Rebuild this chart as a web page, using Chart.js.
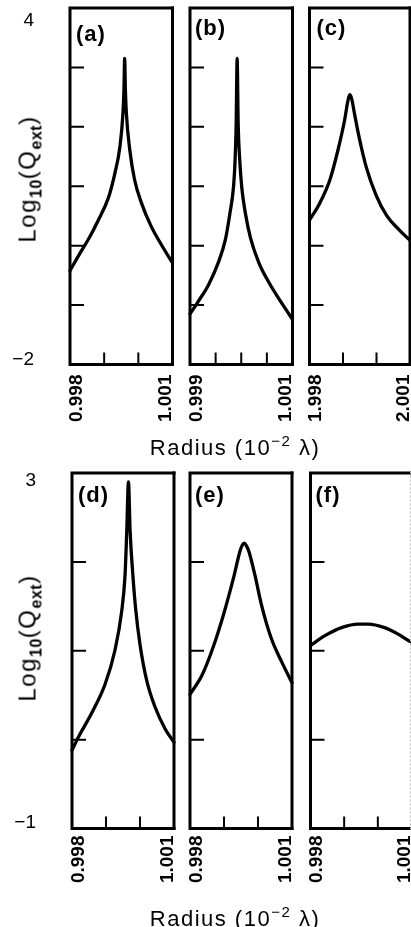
<!DOCTYPE html>
<html>
<head>
<meta charset="utf-8">
<script src="https://cdn.jsdelivr.net/npm/chart.js@4"></script>
<style>
html,body{margin:0;padding:0;background:#fff;overflow:hidden;}
body{width:411px;height:927px;position:relative;font-family:"Liberation Sans",Arial,Helvetica,sans-serif;color:#000;}
canvas{position:absolute;left:0;top:0;}
.ytitle{position:absolute;font-size:24px;letter-spacing:1.5px;white-space:nowrap;line-height:1;transform:translate(-50%,-50%) rotate(-90deg);}
.ytitle sub{font-size:16px;font-weight:bold;vertical-align:-6px;letter-spacing:0.5px;}
.xtitle{position:absolute;font-size:22px;letter-spacing:1.5px;white-space:nowrap;line-height:1;transform:translate(-50%,-50%);}
.xtitle sup{font-size:15px;vertical-align:9px;}
</style>
</head>
<body>
<script>
// ---------------- DATA ----------------
const row1YRange = [-2, 4];
const row2YRange = [-1, 3];
const row1YTicks = [-1, 0, 1, 2, 3];
const row2YTicks = [0, 1, 2];
const row1YTickLabels = ['4', '\u22122'];
const row2YTickLabels = ['3', '\u22121'];

// (a)
const aXRange = [0.998, 1.001];
const aXTicks = [0.999, 1.000];
const aXLabels = ['0.998', '1.001'];
const aX = [0.99800, 0.99832, 0.99858, 0.99882, 0.99912, 0.99931, 0.99946, 0.99955, 0.99958, 0.99960, 0.99962, 0.99965, 0.99975, 0.99989, 1.00009, 1.00038, 1.00067, 1.00100];
const aY = [-0.42, -0.10, 0.15, 0.42, 0.80, 1.21, 1.66, 2.23, 2.65, 3.15, 2.65, 2.23, 1.61, 1.11, 0.72, 0.32, 0.02, -0.29];

// (b)
const bXRange = [0.999, 1.001];
const bXTicks = [0.9995, 1.0000, 1.0005];
const bXLabels = ['0.999', '1.001'];
const bX = [0.99900, 0.99916, 0.99936, 0.99955, 0.99969, 0.99978, 0.99985, 0.99988, 0.99990, 0.99992, 0.99994, 0.99997, 1.00001, 1.00008, 1.00018, 1.00034, 1.00054, 1.00080, 1.00100];
const bY = [-1.15, -0.94, -0.66, -0.29, 0.10, 0.55, 1.00, 1.45, 2.01, 3.15, 2.05, 1.45, 0.98, 0.55, 0.13, -0.28, -0.62, -0.98, -1.24];

// (c)
const cXRange = [1.998, 2.001];
const cXTicks = [1.999, 2.000];
const cXLabels = ['1.998', '2.001'];
const cX = [1.99800, 1.99831, 1.99861, 1.99885, 1.99905, 1.99914, 1.99920, 1.99926, 1.99934, 1.99949, 1.99969, 1.99998, 2.00031, 2.00067, 2.00096, 2.00100];
const cY = [0.43, 0.72, 1.11, 1.61, 2.12, 2.42, 2.54, 2.47, 2.23, 1.80, 1.33, 0.86, 0.50, 0.27, 0.11, 0.09];

// (d)
const dXRange = [0.998, 1.001];
const dXTicks = [0.999, 1.000];
const dXLabels = ['0.998', '1.001'];
const dX = [0.99800, 0.99819, 0.99858, 0.99897, 0.99926, 0.99946, 0.99956, 0.99961, 0.99966, 0.99971, 0.99979, 0.99987, 1.00000, 1.00020, 1.00044, 1.00074, 1.00100];
const dY = [-0.12, 0.03, 0.30, 0.62, 1.00, 1.44, 1.85, 2.34, 2.90, 2.34, 1.85, 1.48, 1.07, 0.66, 0.37, 0.12, -0.03];

// (e)
const eXRange = [0.998, 1.001];
const eXTicks = [0.999, 1.000];
const eXLabels = ['0.998', '1.001'];
const eX = [0.99800, 0.99836, 0.99869, 0.99898, 0.99928, 0.99947, 0.99954, 0.99960, 0.99966, 0.99973, 0.99991, 1.00010, 1.00039, 1.00069, 1.00100];
const eY = [0.51, 0.73, 1.05, 1.40, 1.82, 2.12, 2.19, 2.21, 2.18, 2.12, 1.85, 1.52, 1.14, 0.88, 0.64];

// (f)
const fXRange = [0.998, 1.001];
const fXTicks = [0.999, 1.000];
const fXLabels = ['0.998', '1.001'];
const fX = [0.99800, 0.99843, 0.99892, 0.99941, 0.99971, 1.00020, 1.00059, 1.00093, 1.00100];
const fY = [1.06, 1.17, 1.26, 1.30, 1.30, 1.26, 1.19, 1.11, 1.10];

const panelLetters = ['(a)', '(b)', '(c)', '(d)', '(e)', '(f)'];

// ---------------- LAYOUT ----------------
const CW = 420, CH = 927;
const panels = [
  {x: aX, y: aY, xr: aXRange, yr: row1YRange, xt: aXTicks, yt: row1YTicks, xl: aXLabels, yl: row1YTickLabels, letter: panelLetters[0],
   box: {l: 70, r: 172.5, t: 8, b: 364.5}, gap: 10, lDx: 6, lDy: 27, yLab: {dx: -36, top: 13, bot: -5}},
  {x: bX, y: bY, xr: bXRange, yr: row1YRange, xt: bXTicks, yt: row1YTicks, xl: bXLabels, letter: panelLetters[1],
   box: {l: 190, r: 292.5, t: 8, b: 364.5}, gap: 10, lDx: 5, lDy: 21},
  {x: cX, y: cY, xr: cXRange, yr: row1YRange, xt: cXTicks, yt: row1YTicks, xl: cXLabels, letter: panelLetters[2],
   box: {l: 309.5, r: 410, t: 8, b: 364.5}, gap: 10, lDx: 7, lDy: 21},
  {x: dX, y: dY, xr: dXRange, yr: row2YRange, xt: dXTicks, yt: row2YTicks, xl: dXLabels, yl: row2YTickLabels, letter: panelLetters[3],
   box: {l: 72, r: 174, t: 473, b: 828.5}, gap: 7, lDx: 6, lDy: 23, yLab: {dx: -36, top: 8, bot: -6}},
  {x: eX, y: eY, xr: eXRange, yr: row2YRange, xt: eXTicks, yt: row2YTicks, xl: eXLabels, letter: panelLetters[4],
   box: {l: 190, r: 292, t: 473, b: 828.5}, gap: 7, lDx: 5, lDy: 23},
  {x: fX, y: fY, xr: fXRange, yr: row2YRange, xt: fXTicks, yt: row2YTicks, xl: fXLabels, letter: panelLetters[5],
   box: {l: 310.5, r: 411.5, t: 473, b: 828.5}, gap: 7, lDx: 5, lDy: 23, rightColor: '#bbbbbb', rightDash: [2, 2]}
];

const framePlugin = {
  id: 'frame',
  afterDatasetsDraw(chart, args, o) {
    const ctx = chart.ctx;
    const xs = chart.scales.x, ys = chart.scales.y;
    const L = xs.getPixelForValue(xs.min), R = xs.getPixelForValue(xs.max);
    const T = ys.getPixelForValue(ys.max), B = ys.getPixelForValue(ys.min);
    ctx.save();
    // frame
    ctx.strokeStyle = '#000';
    ctx.lineWidth = 3;
    ctx.lineJoin = 'miter';
    ctx.lineCap = 'square';
    ctx.beginPath();
    ctx.moveTo(R, T); ctx.lineTo(L, T); ctx.lineTo(L, B); ctx.lineTo(R, B);
    ctx.stroke();
    ctx.beginPath();
    ctx.strokeStyle = o.rightColor || '#000';
    ctx.lineCap = 'butt';
    if (o.rightDash) ctx.setLineDash(o.rightDash);
    ctx.moveTo(R, T - 1.5); ctx.lineTo(R, B + 1.5);
    ctx.stroke();
    ctx.setLineDash([]);
    // inward ticks
    ctx.strokeStyle = '#000';
    ctx.lineWidth = 2;
    ctx.lineCap = 'butt';
    ctx.beginPath();
    o.yt.forEach(v => { const p = ys.getPixelForValue(v); ctx.moveTo(L, p); ctx.lineTo(L + 14, p); });
    o.xt.forEach(v => { const p = xs.getPixelForValue(v); ctx.moveTo(p, B); ctx.lineTo(p, B - 12); });
    ctx.stroke();
    // x tick labels (rotated)
    ctx.fillStyle = '#000';
    ctx.font = 'bold 19px "Liberation Sans", Arial, sans-serif';
    ctx.textAlign = 'right';
    ctx.textBaseline = 'middle';
    [[L + 6.5, o.xl[0]], [R - 6.5, o.xl[1]]].forEach(([px, t]) => {
      ctx.save();
      ctx.translate(px, B + o.gap);
      ctx.rotate(-Math.PI / 2);
      ctx.fillText(t, 0, 0);
      ctx.restore();
    });
    // y tick labels
    if (o.yl) {
      ctx.font = '19px "Liberation Sans", Arial, sans-serif';
      ctx.textAlign = 'right';
      ctx.textBaseline = 'middle';
      ctx.fillText(o.yl[0], L + o.yLab.dx, T + o.yLab.top);
      ctx.fillText(o.yl[1], L + o.yLab.dx, B + o.yLab.bot);
    }
    // panel letter
    ctx.font = 'bold 22px "Liberation Sans", Arial, sans-serif';
    if ('letterSpacing' in ctx) ctx.letterSpacing = '1px';
    ctx.textAlign = 'left';
    ctx.textBaseline = 'middle';
    ctx.fillText(o.letter, L + o.lDx, T + o.lDy);
    ctx.restore();
  }
};

panels.forEach(p => {
  const cv = document.createElement('canvas');
  cv.width = CW; cv.height = CH;
  cv.style.width = CW + 'px'; cv.style.height = CH + 'px';
  document.body.appendChild(cv);
  new Chart(cv.getContext('2d'), {
    type: 'line',
    data: {
      datasets: [{
        data: p.x.map((xv, i) => ({x: xv, y: p.y[i]})),
        borderColor: '#000',
        borderWidth: 3.3,
        pointRadius: 0,
        fill: false,
        cubicInterpolationMode: 'monotone',
        borderJoinStyle: 'round',
        borderCapStyle: 'round',
        clip: 2
      }]
    },
    options: {
      responsive: false,
      animation: false,
      events: [],
      layout: {padding: {left: p.box.l, right: CW - p.box.r, top: p.box.t, bottom: CH - p.box.b}},
      plugins: {
        legend: {display: false},
        tooltip: {enabled: false},
        frame: {xt: p.xt, yt: p.yt, xl: p.xl, yl: p.yl, yLab: p.yLab, letter: p.letter, gap: p.gap,
                lDx: p.lDx, lDy: p.lDy, rightColor: p.rightColor, rightDash: p.rightDash}
      },
      scales: {
        x: {type: 'linear', min: p.xr[0], max: p.xr[1], display: false},
        y: {type: 'linear', min: p.yr[0], max: p.yr[1], display: false}
      }
    },
    plugins: [framePlugin]
  });
});

// axis titles (HTML text)
function addDiv(cls, html, x, y) {
  const d = document.createElement('div');
  d.className = cls; d.innerHTML = html;
  d.style.left = x + 'px'; d.style.top = y + 'px';
  document.body.appendChild(d);
}
const yTitle = 'Log<sub>10</sub>(Q<sub>ext</sub>)';
const xTitle = 'Radius (10<sup>\u22122</sup> \u03bb)';
addDiv('ytitle', yTitle, 30, 179);
addDiv('ytitle', yTitle, 30, 638);
addDiv('xtitle', xTitle, 235, 446);
addDiv('xtitle', xTitle, 235, 917);
</script>
</body>
</html>
